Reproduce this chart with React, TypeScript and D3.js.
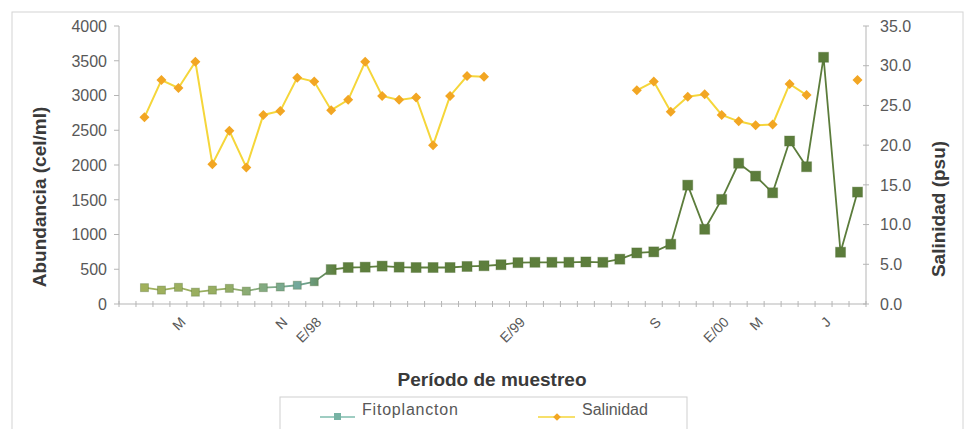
import * as d3 from "d3";

// sampling periods (44 category slots, first one empty)
const tickLabels = [
  "", "", "", "M", "", "", "", "", "", "N", "", "E/98", "", "", "", "", "", "", "", "", "", "",
  "", "E/99", "", "", "", "", "", "", "", "S", "", "", "", "E/00", "", "M", "", "", "", "J", "", "",
];

const fitoplancton = [
  null, 235, 200, 240, 170, 200, 225, 185, 235, 245, 270, 320, 495, 525, 530, 545, 530, 525, 525, 525,
  540, 550, 565, 595, 600, 600, 600, 605, 600, 645, 735, 750, 860, 1710, 1075, 1505, 2025, 1840, 1600,
  2345, 1975, 3550, 745, 1610,
];

const salinidad = [
  null, 23.5, 28.2, 27.2, 30.5, 17.6, 21.8, 17.2, 23.8, 24.3, 28.5, 28.0, 24.4, 25.7, 30.5, 26.2, 25.7,
  26.0, 20.0, 26.2, 28.7, 28.6, null, null, null, null, null, null, null, null, 26.9, 28.0, 24.2, 26.1,
  26.4, 23.8, 23.0, 22.5, 22.6, 27.7, 26.3, null, null, 28.2,
];

const leftTicks = [0, 500, 1000, 1500, 2000, 2500, 3000, 3500, 4000];
const rightTicks = [0, 5, 10, 15, 20, 25, 30, 35];

const W = 967;
const H = 429;
const left = 119;
const right = 866;
const top = 26;
const bottom = 304;
const font = "'Liberation Sans', Arial, sans-serif";
const axisColor = "#b5b5b5";
const textColor = "#585858";

export default function App() {
  const idx = tickLabels.map((_, i) => i);
  const x = d3.scaleBand<number>().domain(idx).range([left, right]).padding(0);
  const cx = (i: number) => (x(i) ?? 0) + x.bandwidth() / 2;
  const yL = d3.scaleLinear().domain([0, 4000]).range([bottom, top]);
  const yR = d3.scaleLinear().domain([0, 35]).range([bottom, top]);

  const fitoLine = d3
    .line<number | null>()
    .defined((d) => d != null)
    .x((_, i) => cx(i))
    .y((d) => yL(d as number))(fitoplancton);

  const salLine = d3
    .line<number | null>()
    .defined((d) => d != null)
    .x((_, i) => cx(i))
    .y((d) => yR(d as number))(salinidad);

  const boundaries = d3.range(tickLabels.length + 1).map((i) => left + i * x.bandwidth());
  // square turned 45 degrees, like the Excel diamond marker
  const diamond = d3.symbol(d3.symbolSquare, 50)();
  const smallDiamond = d3.symbol(d3.symbolSquare, 30)();

  return (
    <svg
      width={W}
      height={H}
      style={{ position: "absolute", left: 0, top: 0, background: "#fff" }}
      fontFamily={font}
    >
      <defs>
        <linearGradient id="fitoGrad" gradientUnits="userSpaceOnUse" x1={left} x2={right} y1={0} y2={0}>
          <stop offset="0" stopColor="#a4b25a" />
          <stop offset="0.14" stopColor="#96ad62" />
          <stop offset="0.24" stopColor="#72a89c" />
          <stop offset="0.29" stopColor="#5e7f3d" />
          <stop offset="1" stopColor="#5b7c3b" />
        </linearGradient>
      </defs>

      {/* chart border */}
      <rect x={12} y={12} width={951} height={440} fill="none" stroke="#d4d4d4" />

      {/* axes */}
      <line x1={left} x2={left} y1={top} y2={bottom} stroke={axisColor} />
      <line x1={right} x2={right} y1={top} y2={bottom} stroke={axisColor} />
      <line x1={left} x2={right} y1={bottom} y2={bottom} stroke={axisColor} />

      {leftTicks.map((t) => (
        <g key={"l" + t}>
          <line x1={left - 5} x2={left} y1={yL(t)} y2={yL(t)} stroke={axisColor} />
          <text x={107} y={yL(t)} dy="0.36em" textAnchor="end" fontSize={16} fill={textColor}>
            {t}
          </text>
        </g>
      ))}
      {rightTicks.map((t) => (
        <g key={"r" + t}>
          <line x1={right - 3} x2={right + 3} y1={yR(t)} y2={yR(t)} stroke={axisColor} />
          <text x={880} y={yR(t)} dy="0.36em" textAnchor="start" fontSize={16} fill={textColor}>
            {t.toFixed(1)}
          </text>
        </g>
      ))}
      {boundaries.map((b, i) => (
        <line key={"b" + i} x1={b} x2={b} y1={bottom - 3} y2={bottom + 3} stroke={axisColor} />
      ))}
      {tickLabels.map((lab, i) =>
        lab ? (
          <text
            key={"x" + i}
            transform={`translate(${cx(i) + 1},${bottom + 12}) rotate(-45)`}
            textAnchor="end"
            dy="0.71em"
            fontSize={14}
            fill={textColor}
          >
            {lab}
          </text>
        ) : null
      )}

      {/* axis titles */}
      <text
        transform={`translate(46,197) rotate(-90)`}
        textAnchor="middle"
        fontSize={19}
        fontWeight="bold"
        fill="#3a3a3a"
      >
        Abundancia (cel/ml)
      </text>
      <text
        transform={`translate(945,209) rotate(-90)`}
        textAnchor="middle"
        fontSize={19}
        fontWeight="bold"
        fill="#3a3a3a"
      >
        Salinidad (psu)
      </text>
      <text x={492} y={386} textAnchor="middle" fontSize={19} fontWeight="bold" fill="#3a3a3a">
        Período de muestreo
      </text>

      {/* salinidad */}
      <path d={salLine ?? ""} fill="none" stroke="#f5d63a" strokeWidth={2} />
      {salinidad.map((d, i) =>
        d == null ? null : (
          <path
            key={"s" + i}
            d={diamond ?? ""}
            transform={`translate(${cx(i)},${yR(d)}) rotate(45)`}
            fill="#f2a623"
          />
        )
      )}

      {/* fitoplancton */}
      <path d={fitoLine ?? ""} fill="none" stroke="url(#fitoGrad)" strokeWidth={1.8} />
      {fitoplancton.map((d, i) => {
        if (d == null) return null;
        const s = i < 12 ? 8 : 10;
        return (
          <rect
            key={"f" + i}
            x={cx(i) - s / 2}
            y={yL(d) - s / 2}
            width={s}
            height={s}
            fill="url(#fitoGrad)"
            stroke="#4f6c33"
            strokeOpacity={0.35}
          />
        );
      })}

      {/* legend */}
      <rect x={280} y={397} width={407} height={50} fill="#fff" stroke="#cfcfcf" />
      <line x1={320} x2={355} y1={417} y2={417} stroke="#7fbcae" strokeWidth={1.5} />
      <rect x={334} y={413} width={7} height={7} fill="#77b3a4" />
      <text x={362} y={415} fontSize={16} fill={textColor} letterSpacing={0.8}>
        Fitoplancton
      </text>
      <line x1={538} x2={575} y1={417} y2={417} stroke="#f5d63a" strokeWidth={1.5} />
      <path d={smallDiamond ?? ""} transform="translate(557,417) rotate(45)" fill="#f2a623" />
      <text x={582} y={415} fontSize={16} fill={textColor}>
        Salinidad
      </text>
    </svg>
  );
}
